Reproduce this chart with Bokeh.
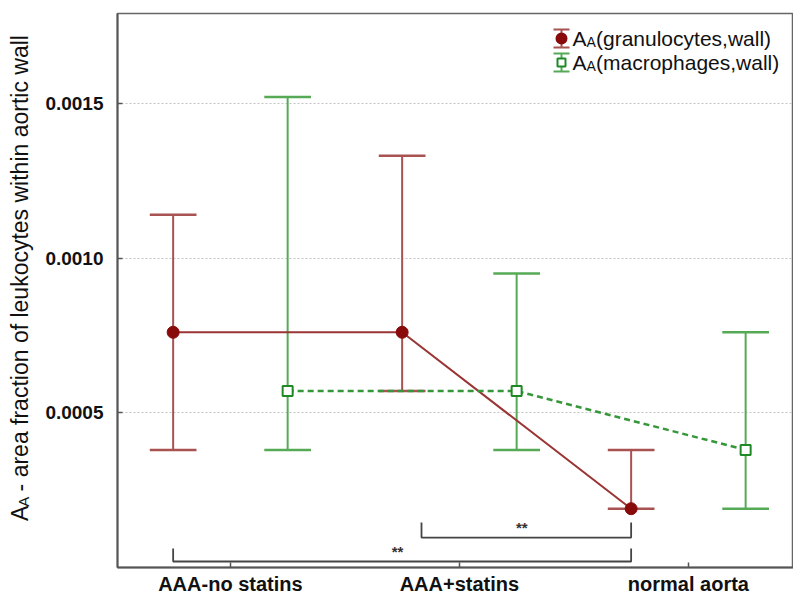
import math
from bokeh.plotting import figure
from bokeh.layouts import row
from bokeh.models import Range1d, FixedTicker, Label
from bokeh.embed import file_html
from bokeh.resources import INLINE

# ---------------- data ----------------
categories = ["AAA-no statins", "AAA+statins", "normal aorta"]
gran_mean = [0.00076, 0.00076, 0.00019]
gran_upper = [0.00114, 0.00133, 0.00038]
gran_lower = [0.00038, 0.00057, 0.00019]
mac_mean = [0.00057, 0.00057, 0.00038]
mac_upper = [0.00152, 0.00095, 0.00076]
mac_lower = [0.00038, 0.00038, 0.00019]
y_ticks = [0.0005, 0.0010, 0.0015]
y_tick_labels = ["0.0005", "0.0010", "0.0015"]
series_names = ["granulocytes,wall", "macrophages,wall"]
y_title = "- area fraction of leukocytes within aortic wall"
sig_label = "**"
# significance comparisons: (from index, to index)
sig_pairs = [(0, 2), (1, 2)]

# ---------------- layout ----------------
FONT = "Liberation Sans"
TOTAL_W, H = 793, 597
SIDE_W = 40                       # narrow figure holding the y title
W = TOTAL_W - SIDE_W
FRAME_L, FRAME_T = 117, 13        # page px
FRAME_B = 568
FRAME_R = TOTAL_W
X0, X1 = -0.493, 2.459
Y0, Y1 = 0.0, 0.00179
OFF = 0.25          # series offset from category centre
CAP = 0.102         # half cap width (data units)
RED_BAR = "#a85252"
RED_LINE = "#9a3535"
RED_DOT = "#880a0a"
GRN_BAR = "#56aa56"
GRN_LINE = "#35963a"
GRN_SQ = "#1f8a25"
TXT = "#111111"


def px2x(px):
    return X0 + (px - FRAME_L) / (FRAME_R - FRAME_L) * (X1 - X0)


def px2y(py):
    return Y1 - (py - FRAME_T) / (FRAME_B - FRAME_T) * (Y1 - Y0)


p = figure(width=W, height=H, output_backend="svg", toolbar_location=None,
           x_range=Range1d(X0, X1), y_range=Range1d(Y0, Y1),
           min_border_left=FRAME_L - SIDE_W, min_border_top=FRAME_T,
           min_border_right=0, min_border_bottom=H - FRAME_B)
p.background_fill_color = "white"
p.border_fill_color = "white"
p.outline_line_color = "#666666"
p.outline_line_width = 1.5

# axes
p.xaxis.ticker = FixedTicker(ticks=list(range(len(categories))))
p.xaxis.major_label_overrides = {i: c for i, c in enumerate(categories)}
p.yaxis.ticker = FixedTicker(ticks=y_ticks)
p.yaxis.major_label_overrides = {t: l for t, l in zip(y_ticks, y_tick_labels)}
for ax in (p.xaxis, p.yaxis):
    ax.axis_line_color = "#555555"
    ax.axis_line_width = 2
    ax.major_tick_in = 5
    ax.major_tick_out = 0
    ax.major_tick_line_color = "#555555"
    ax.major_tick_line_width = 1.5
    ax.minor_tick_line_color = None
    ax.major_label_text_font = FONT
    ax.major_label_text_font_style = "bold"
    ax.major_label_text_color = TXT
p.xaxis.major_label_text_font_size = "20px"
p.yaxis.major_label_text_font_size = "19px"
p.xaxis.major_label_standoff = 5
p.yaxis.major_label_standoff = 14
p.xgrid.grid_line_color = None
p.ygrid.grid_line_color = "#c4c4c4"
p.ygrid.grid_line_dash = "2 2"
p.ygrid.grid_line_width = 1

n = len(categories)
gx = [i - OFF for i in range(n)]
mx = [i + OFF for i in range(n)]

# error bars
p.segment(gx, gran_lower, gx, gran_upper, line_color=RED_BAR, line_width=2)
p.segment([x - CAP for x in gx], gran_upper, [x + CAP for x in gx], gran_upper, line_color=RED_BAR, line_width=2.5)
p.segment([x - CAP for x in gx], gran_lower, [x + CAP for x in gx], gran_lower, line_color=RED_BAR, line_width=2.5)
p.segment(mx, mac_lower, mx, mac_upper, line_color=GRN_BAR, line_width=2)
p.segment([x - CAP for x in mx], mac_upper, [x + CAP for x in mx], mac_upper, line_color=GRN_BAR, line_width=2.5)
p.segment([x - CAP for x in mx], mac_lower, [x + CAP for x in mx], mac_lower, line_color=GRN_BAR, line_width=2.5)

# mean lines
p.line(gx, gran_mean, line_color=RED_LINE, line_width=2)
p.line(mx, mac_mean, line_color=GRN_LINE, line_width=2.5, line_dash="6 4")

# markers
p.scatter(gx, gran_mean, marker="circle", size=12, fill_color=RED_DOT, line_color=RED_DOT)
p.scatter(mx, mac_mean, marker="square", size=10, fill_color="white", line_color=GRN_SQ, line_width=2)

# significance brackets
bracket_levels = [(px2y(562), px2y(549)), (px2y(538), px2y(523))]
bracket_left = [gx[0], px2x(421)]
for (a, b), (ylo, yhi), xl in zip(sig_pairs, bracket_levels, bracket_left):
    xr = gx[b]
    p.line([xl, xl, xr, xr], [yhi, ylo, ylo, yhi], line_color="#444444", line_width=1.8)
    p.add_layout(Label(x=(xl + xr) / 2 - 0.02, y=ylo, text=sig_label, text_align="center",
                       text_baseline="bottom", text_font=FONT, text_font_size="15px",
                       text_font_style="bold", text_color="#333333", y_offset=2))

# custom legend
leg_x = 561
leg_rows = [38, 62]
leg_styles = [(RED_BAR, "circle", RED_DOT, RED_DOT, 10), (GRN_BAR, "square", "white", GRN_SQ, 8)]
for name, ry, (bc, mk, fc, lc, sz) in zip(series_names, leg_rows, leg_styles):
    xl = px2x(leg_x)
    hw = px2x(leg_x + 8) - xl
    p.segment([xl], [px2y(ry - 9)], [xl], [px2y(ry + 9)], line_color=bc, line_width=2)
    p.segment([xl - hw, xl - hw], [px2y(ry - 9), px2y(ry + 9)], [xl + hw, xl + hw],
              [px2y(ry - 9), px2y(ry + 9)], line_color=bc, line_width=2)
    p.scatter([xl], [px2y(ry)], marker=mk, size=sz, fill_color=fc, line_color=lc, line_width=2)
    tx = leg_x + 11
    p.add_layout(Label(x=px2x(tx), y=px2y(ry), text="A", text_align="left", text_baseline="middle",
                       text_font=FONT, text_font_size="21px", text_color=TXT))
    p.add_layout(Label(x=px2x(tx + 14), y=px2y(ry + 4), text="A", text_align="left", text_baseline="middle",
                       text_font=FONT, text_font_size="14px", text_color=TXT))
    p.add_layout(Label(x=px2x(tx + 23.5), y=px2y(ry), text="(" + name + ")", text_align="left",
                       text_baseline="middle", text_font=FONT, text_font_size="21px", text_color=TXT))

# side figure holding the y-axis title (pixel coordinates, y downward)
s = figure(width=SIDE_W, height=H, output_backend="svg", toolbar_location=None,
           x_range=Range1d(0, SIDE_W), y_range=Range1d(H, 0),
           x_axis_location=None, y_axis_location=None,
           min_border_left=0, min_border_right=0, min_border_top=0, min_border_bottom=0)
s.outline_line_color = None
s.xgrid.grid_line_color = None
s.ygrid.grid_line_color = None
s.background_fill_color = "white"
s.border_fill_color = "white"
ybase = 547
xcen = 19
s.add_layout(Label(x=xcen, y=ybase, text="A", angle=math.pi / 2,
                   text_align="left", text_baseline="middle", text_font=FONT,
                   text_font_size="23px", text_color=TXT))
s.add_layout(Label(x=xcen + 4, y=ybase - 15.5, text="A", angle=math.pi / 2,
                   text_align="left", text_baseline="middle", text_font=FONT,
                   text_font_size="15px", text_color=TXT))
s.add_layout(Label(x=xcen, y=ybase - 32, text=y_title, angle=math.pi / 2,
                   text_align="left", text_baseline="middle", text_font=FONT,
                   text_font_size="23px", text_color=TXT))

layout = row(s, p, spacing=0)
open("out.html", "w").write(file_html(layout, INLINE))
